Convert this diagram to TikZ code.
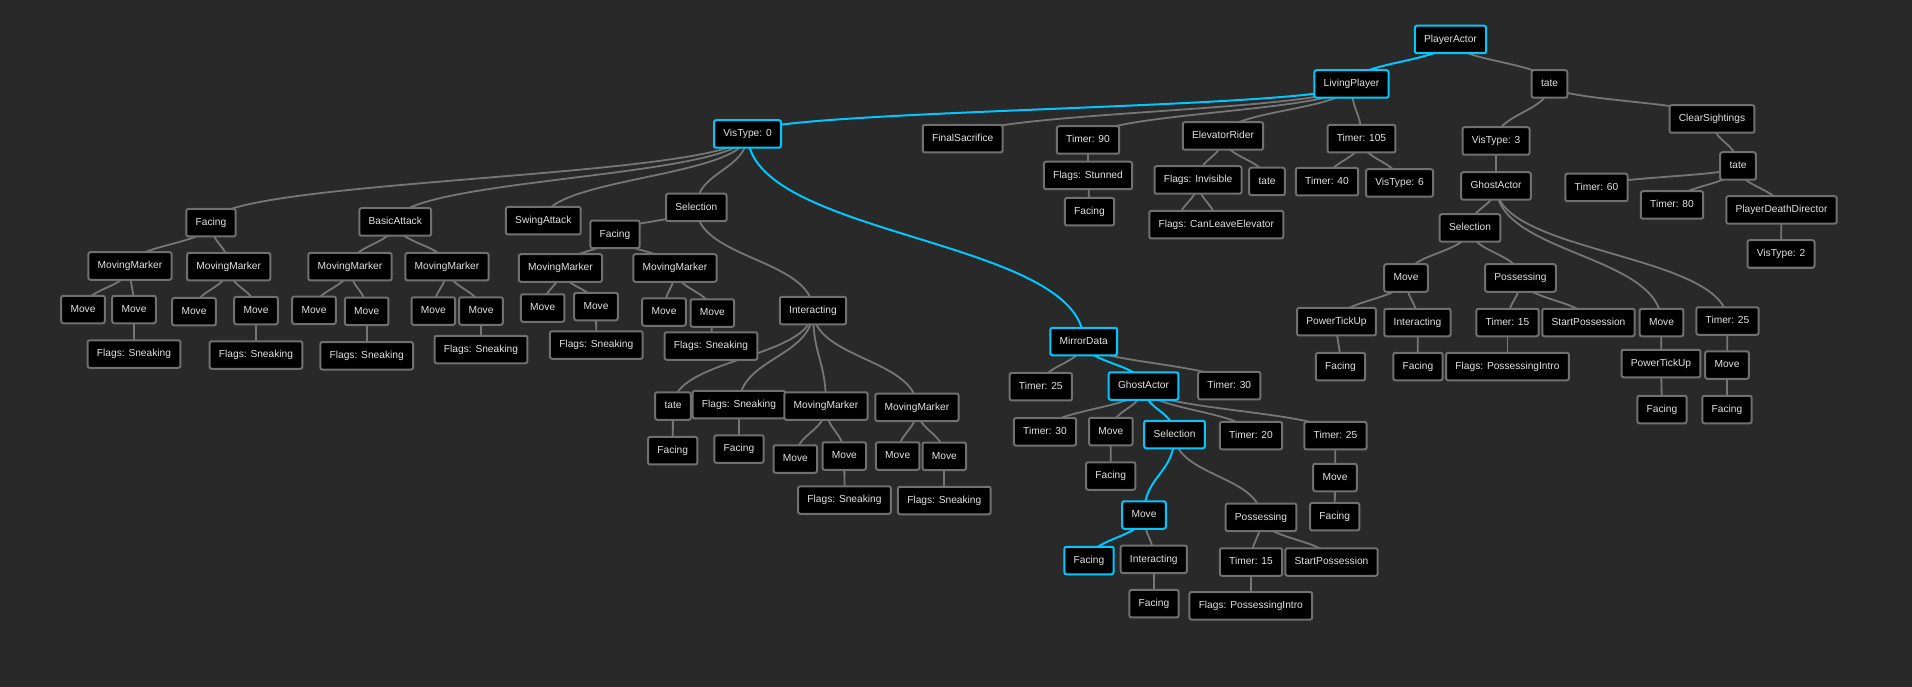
\documentclass[tikz,border=0pt]{standalone}
\usepackage{fontspec}
\setmainfont{Liberation Sans}
\usetikzlibrary{calc, backgrounds}
\definecolor{treebg}{HTML}{292929}
\definecolor{boxgray}{HTML}{707070}
\definecolor{linkgray}{HTML}{767676}
\definecolor{txtgray}{HTML}{E2E2E2}
\definecolor{hlcyan}{HTML}{00C8FF}

\begin{document}
\begin{tikzpicture}[
  x=1pt, y=-1pt,
  box/.style={rectangle, draw=boxgray, fill=black, line width=2pt,
              rounded corners=2pt, minimum height=27.5pt,
              inner xsep=9.3pt, inner ysep=0pt,
              text height=7.6pt, text depth=2.2pt, text=txtgray,
              font=\fontsize{10.2}{12}\selectfont},
  hl/.style={draw=hlcyan},
  link/.style={draw=linkgray, line width=1.8pt,
               to path={let \p1=(\tikztostart), \p2=(\tikztotarget) in
                 .. controls (\x1,{0.5*(\y1+\y2)}) and (\x2,{0.5*(\y1+\y2)})
                 .. (\tikztotarget)}},
  hlink/.style={link, draw=hlcyan, line width=2pt}
]
  \useasboundingbox (0,0) rectangle (1912,687);

  % top of the tree
  \node[box, hl] (player) at (1450.5,39.5) {PlayerActor};
  \node[box, hl] (living) at (1351.5,84) {LivingPlayer};
  \node[box] (tateA) at (1549.5,84) {tate};

  % LivingPlayer branch
  \node[box, hl] (vis0) at (747.5,134) {VisType: 0};
  \node[box] (finalSac) at (962.7,138.7) {FinalSacrifice};
  \node[box] (timer90) at (1088,140) {Timer: 90};
  \node[box] (stunned) at (1088,175.5) {Flags: Stunned};
  \node[box] (faceSt) at (1089.5,211.7) {Facing};
  \node[box] (elevator) at (1223,136) {ElevatorRider};
  \node[box] (invisible) at (1198,180) {Flags: Invisible};
  \node[box] (tateB) at (1267,181.5) {tate};
  \coordinate (canHid) at (1178,224.7);
  \node[box] (canLeave) at (1216.3,224.7) {Flags: CanLeaveElevator};
  \node[box] (timer105) at (1361.5,138.7) {Timer: 105};
  \node[box] (timer40) at (1327,181.7) {Timer: 40};
  \node[box] (vis6) at (1399.5,183) {VisType: 6};

  % VisType: 0 branch
  \node[box] (faceL) at (211,222.7) {Facing};
  \node[box] (mm1) at (130,266) {MovingMarker};
  \node[box] (mv1a) at (83,309.5) {Move};
  \node[box] (mv1b) at (134,309.5) {Move};
  \node[box] (sn1) at (134,354) {Flags: Sneaking};
  \node[box] (mm2) at (228.7,266.7) {MovingMarker};
  \node[box] (mv2a) at (194,311.7) {Move};
  \node[box] (mv2b) at (256,310.5) {Move};
  \node[box] (sn2) at (256,355) {Flags: Sneaking};
  \node[box] (basic) at (395.3,222) {BasicAttack};
  \node[box] (mm3) at (350,266.7) {MovingMarker};
  \node[box] (mv3a) at (314,310.3) {Move};
  \node[box] (mv3b) at (366.7,311.3) {Move};
  \node[box] (sn3) at (366.7,355.8) {Flags: Sneaking};
  \node[box] (mm4) at (447,266.7) {MovingMarker};
  \node[box] (mv4a) at (433.3,311) {Move};
  \node[box] (mv4b) at (481,311) {Move};
  \node[box] (sn4) at (481,349.5) {Flags: Sneaking};
  \node[box] (swing) at (543.3,220.7) {SwingAttack};
  \node[box] (selL) at (696.3,207.5) {Selection};
  \node[box] (faceS) at (615,234.3) {Facing};
  \node[box] (mm5) at (560.5,268) {MovingMarker};
  \node[box] (mv5a) at (542.7,308) {Move};
  \node[box] (mv5b) at (596,306.5) {Move};
  \node[box] (sn5) at (596.3,345) {Flags: Sneaking};
  \node[box] (mm6) at (675,268) {MovingMarker};
  \node[box] (mv6a) at (664,312) {Move};
  \node[box] (mv6b) at (712.3,313) {Move};
  \node[box] (sn6) at (711,346) {Flags: Sneaking};
  \node[box] (interL) at (813,310.5) {Interacting};
  \node[box] (tateD) at (673,406) {tate};
  \node[box] (faceD) at (672.7,450.7) {Facing};
  \node[box] (snI) at (739,404.7) {Flags: Sneaking};
  \node[box] (faceI) at (739,449) {Facing};
  \node[box] (mm7) at (826,406) {MovingMarker};
  \node[box] (mv7a) at (795.3,459) {Move};
  \node[box] (mv7b) at (844.3,456) {Move};
  \node[box] (sn7) at (844.5,500) {Flags: Sneaking};
  \node[box] (mm8) at (917,407.3) {MovingMarker};
  \node[box] (mv8a) at (897.7,456) {Move};
  \node[box] (mv8b) at (944.3,456.3) {Move};
  \node[box] (sn8) at (944.3,500.5) {Flags: Sneaking};

  % MirrorData branch
  \node[box, hl] (mirror) at (1083.7,341.5) {MirrorData};
  \node[box] (t25M) at (1040.8,386.7) {Timer: 25};
  \node[box, hl] (ghostM) at (1143.5,386) {GhostActor};
  \node[box] (t30M) at (1229.3,385.7) {Timer: 30};
  \node[box] (t30Mb) at (1045,431.8) {Timer: 30};
  \node[box] (moveM) at (1110.8,431.5) {Move};
  \node[box] (faceMv) at (1110.7,476) {Facing};
  \node[box, hl] (selM) at (1174.5,434.5) {Selection};
  \node[box] (t20M) at (1251,435.7) {Timer: 20};
  \node[box] (t25Mb) at (1335.5,435.7) {Timer: 25};
  \node[box] (moveMb) at (1335,477.5) {Move};
  \node[box] (faceMb) at (1334.7,516.7) {Facing};
  \node[box, hl] (moveHL) at (1144,515) {Move};
  \node[box] (possM) at (1261,517.3) {Possessing};
  \node[box, hl] (faceHL) at (1089,560.5) {Facing};
  \node[box] (interM) at (1153.8,559.3) {Interacting};
  \node[box] (faceIM) at (1154,603.7) {Facing};
  \node[box] (t15M) at (1251,562) {Timer: 15};
  \node[box] (startM) at (1331.5,562) {StartPossession};
  \node[box] (introM) at (1250.8,605.8) {Flags: PossessingIntro};

  % tate branch on the right
  \node[box] (vis3) at (1496,141) {VisType: 3};
  \node[box] (ghostR) at (1496,186) {GhostActor};
  \node[box] (selR) at (1470,228) {Selection};
  \node[box] (moveR) at (1406,278) {Move};
  \node[box] (powerR) at (1336.5,321.7) {PowerTickUp};
  \node[box] (facePR) at (1340.5,366.7) {Facing};
  \node[box] (interR) at (1417.5,322.5) {Interacting};
  \node[box] (faceIR) at (1418,366.5) {Facing};
  \node[box] (possR) at (1520.5,278) {Possessing};
  \node[box] (t15R) at (1507.5,322.5) {Timer: 15};
  \node[box] (introR) at (1507.5,366.5) {Flags: PossessingIntro};
  \node[box] (startR) at (1588.5,322.5) {StartPossession};
  \node[box] (moveR2) at (1661.5,322.5) {Move};
  \node[box] (powerR2) at (1661,363.5) {PowerTickUp};
  \node[box] (facePR2) at (1662,409.5) {Facing};
  \node[box] (t25R) at (1727.5,321) {Timer: 25};
  \node[box] (moveR3) at (1727,365) {Move};
  \node[box] (faceR3) at (1727,409.5) {Facing};
  \node[box] (clear) at (1712,119) {ClearSightings};
  \node[box] (tateC) at (1738,166) {tate};
  \node[box] (timer60) at (1596.5,187.5) {Timer: 60};
  \node[box] (timer80) at (1672,205) {Timer: 80};
  \node[box] (death) at (1781.5,210) {PlayerDeathDirector};
  \node[box] (vis2) at (1781,254) {VisType: 2};

  \begin{scope}[on background layer]
    \fill[treebg] (0,0) rectangle (1912,687);
    \foreach \a/\b in {player/tateA, living/finalSac, living/timer90,
        timer90/stunned, stunned/faceSt, living/elevator,
        elevator/invisible, elevator/tateB, invisible/canLeave,
        invisible/canHid, living/timer105, timer105/timer40,
        timer105/vis6,
        vis0/faceL, faceL/mm1, faceL/mm2, mm1/mv1a, mm1/mv1b, mv1b/sn1,
        mm2/mv2a, mm2/mv2b, mv2b/sn2, vis0/basic, basic/mm3, basic/mm4,
        mm3/mv3a, mm3/mv3b, mv3b/sn3, mm4/mv4a, mm4/mv4b, mv4b/sn4,
        vis0/swing, vis0/selL, selL/faceS, faceS/mm5, faceS/mm6,
        mm5/mv5a, mm5/mv5b, mv5b/sn5, mm6/mv6a, mm6/mv6b, mv6b/sn6,
        selL/interL, interL/tateD, tateD/faceD, interL/snI, snI/faceI,
        interL/mm7, interL/mm8, mm7/mv7a, mm7/mv7b, mv7b/sn7,
        mm8/mv8a, mm8/mv8b, mv8b/sn8,
        mirror/t25M, mirror/t30M, ghostM/t30Mb, ghostM/moveM,
        moveM/faceMv, ghostM/t20M, ghostM/t25Mb, t25Mb/moveMb,
        moveMb/faceMb, selM/possM, moveHL/interM, interM/faceIM,
        possM/t15M, possM/startM, t15M/introM,
        tateA/vis3, vis3/ghostR, ghostR/selR, selR/moveR, moveR/powerR,
        powerR/facePR, moveR/interR, interR/faceIR, selR/possR,
        possR/t15R, t15R/introR, possR/startR, ghostR/moveR2,
        moveR2/powerR2, powerR2/facePR2, ghostR/t25R, t25R/moveR3,
        moveR3/faceR3, tateA/clear, clear/tateC, tateC/timer60,
        tateC/timer80, tateC/death, death/vis2}
      \draw[link] (\a.center) to (\b.center);
    % highlighted path
    \foreach \a/\b in {player/living, living/vis0, vis0/mirror,
        mirror/ghostM, ghostM/selM, selM/moveHL, moveHL/faceHL}
      \draw[hlink] (\a.center) to (\b.center);
  \end{scope}
\end{tikzpicture}
\end{document}
